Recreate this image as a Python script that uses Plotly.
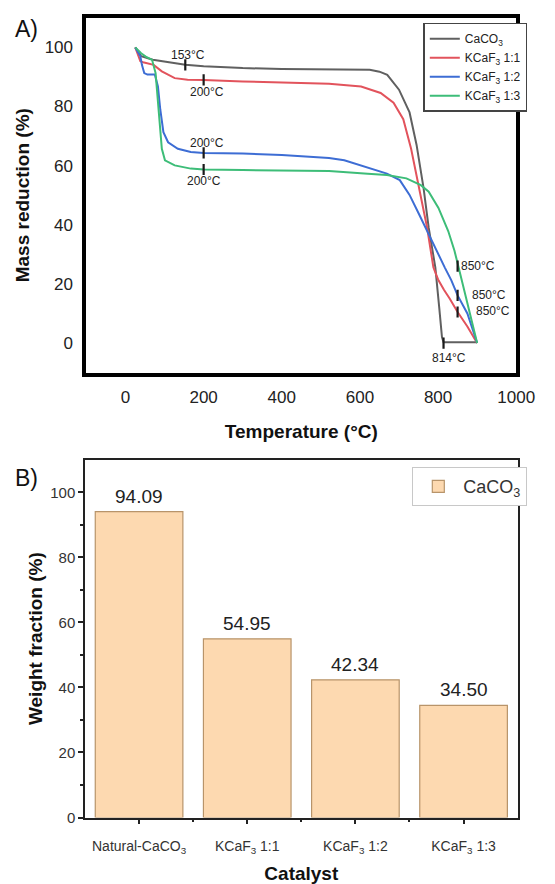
import plotly.graph_objects as go

FONT = "Liberation Sans"

# ---------------- Panel A data (TGA curves) ----------------
temp_caco3 = [25, 40, 70, 101, 153, 200, 300, 400, 521, 600, 625, 650, 670, 700, 727, 745, 763, 776, 793, 803, 810, 814, 850, 900]
mass_caco3 = [100, 97.0, 95.8, 95.2, 94.1, 93.6, 93.0, 92.7, 92.6, 92.6, 92.4, 91.8, 90.7, 85.7, 78.0, 67.0, 52.3, 39.0, 25.6, 12.0, 2.0, 0.3, 0.3, 0.3]

temp_11 = [25, 38, 45, 72, 93, 126, 159, 200, 300, 400, 521, 603, 653, 686, 711, 731, 751, 772, 788, 800, 815, 830, 850, 875, 895, 900]
mass_11 = [100, 95.3, 95.0, 94.1, 91.9, 89.6, 89.1, 89.0, 88.5, 88.2, 87.7, 86.8, 84.6, 81.3, 75.7, 65.7, 52.3, 39.0, 25.6, 21.5, 18.0, 15.0, 10.5, 5.6, 1.1, 0.0]

temp_12 = [25, 38, 42, 48, 56, 75, 83, 89, 97, 109, 134, 167, 200, 300, 400, 521, 560, 615, 669, 702, 727, 752, 776, 801, 817, 834, 850, 875, 895, 900]
mass_12 = [100, 97.0, 94.1, 91.3, 90.8, 90.8, 86.8, 79.0, 71.3, 67.9, 65.7, 64.6, 64.3, 64.1, 63.6, 62.6, 61.8, 59.6, 57.3, 55.1, 50.1, 43.4, 36.7, 30.1, 25.6, 21.2, 16.1, 10.0, 2.2, 0.0]

temp_13 = [25, 40, 52, 68, 77, 85, 93, 101, 126, 167, 200, 300, 400, 521, 620, 669, 719, 756, 776, 801, 826, 842, 850, 867, 883, 900]
mass_13 = [100, 98.0, 96.9, 95.8, 91.3, 79.0, 65.7, 61.8, 60.1, 59.0, 58.7, 58.5, 58.3, 58.2, 57.3, 56.8, 55.7, 53.4, 51.2, 45.7, 37.9, 31.2, 27.0, 17.8, 8.9, 0.0]

series_names = ["CaCO<sub>3</sub>", "KCaF<sub>3</sub> 1:1", "KCaF<sub>3</sub> 1:2", "KCaF<sub>3</sub> 1:3"]

# marked temperatures on the curves
mark_temp = [153, 200, 200, 200, 850, 850, 850, 814]
mark_mass = [94.1, 89.0, 64.3, 58.7, 26.0, 16.1, 10.5, 0.0]
mark_text = ["153°C", "200°C", "200°C", "200°C", "850°C", "850°C", "850°C", "814°C"]

x_ticks_a = [0, 200, 400, 600, 800, 1000]
y_ticks_a = [0, 20, 40, 60, 80, 100]

# ---------------- Panel B data (bars) ----------------
catalysts = ["Natural-CaCO<sub>3</sub>", "KCaF<sub>3</sub> 1:1", "KCaF<sub>3</sub> 1:2", "KCaF<sub>3</sub> 1:3"]
weight_fraction = [94.09, 54.95, 42.34, 34.50]
y_ticks_b = [0, 20, 40, 60, 80, 100]
y_minor_b = [10, 30, 50, 70, 90]

W, H = 555, 884
def px_x(p):
    return p / W
def px_y(p):
    return 1 - p / H

fig = go.Figure()

colors = ["#606060", "#e2535c", "#3d6dd4", "#3dbd78"]
temps = [temp_caco3, temp_11, temp_12, temp_13]
masses = [mass_caco3, mass_11, mass_12, mass_13]
for name, t, m, c in zip(series_names, temps, masses, colors):
    fig.add_trace(go.Scatter(x=t, y=m, mode="lines", name=name,
                             line=dict(color=c, width=2),
                             xaxis="x", yaxis="y", legend="legend"))

fig.add_trace(go.Scatter(x=mark_temp, y=mark_mass, mode="markers", showlegend=False,
                         marker=dict(symbol="line-ns", size=8,
                                     line=dict(width=2.2, color="#1a1a1a")),
                         xaxis="x", yaxis="y", hoverinfo="skip"))

# label offsets (pixels) relative to each mark
label_shift = [
    (3, 10, "center"), (3, -12, "center"), (3, 10, "center"), (0, -12, "center"),
    (1, 0, "left"), (12, 0, "left"), (16, 1, "left"), (5, -15, "center"),
]
annotations = []
for xv, yv, txt, (dx, dy, anc) in zip(mark_temp, mark_mass, mark_text, label_shift):
    annotations.append(dict(x=xv, y=yv, xref="x", yref="y", text=txt, showarrow=False,
                            xanchor=anc, yanchor="middle", xshift=dx, yshift=dy,
                            font=dict(family=FONT, size=12, color="#222")))

# ---------------- Panel B bars ----------------
fig.add_trace(go.Bar(x=list(range(len(catalysts))), y=weight_fraction, name="CaCO<sub>3</sub>",
                     marker=dict(color="#fdd9b0", line=dict(color="#b8946a", width=1.2)),
                     xaxis="x2", yaxis="y2", legend="legend2"))

# value labels above bars
for i, v in enumerate(weight_fraction):
    annotations.append(dict(x=i, y=v, xref="x2", yref="y2", text=f"{v:.2f}", showarrow=False,
                            xanchor="center", yanchor="bottom", yshift=3,
                            font=dict(family=FONT, size=19, color="#222")))

# panel letters
annotations.append(dict(x=px_x(13), y=px_y(29), xref="paper", yref="paper", text="A)",
                        showarrow=False, xanchor="left", yanchor="middle",
                        font=dict(family=FONT, size=23, color="#111")))
annotations.append(dict(x=px_x(13), y=px_y(482), xref="paper", yref="paper", text="B)",
                        showarrow=False, xanchor="left", yanchor="middle",
                        font=dict(family=FONT, size=23, color="#111")))

fig.update_layout(
    width=W, height=H,
    margin=dict(l=0, r=0, t=0, b=0),
    paper_bgcolor="white", plot_bgcolor="white",
    font=dict(family=FONT, color="#222"),
    barmode="group", bargap=0.19,
    annotations=annotations,
    xaxis=dict(domain=[px_x(89.5), px_x(534.5)], anchor="y", range=[-100, 1000],
               tickmode="array", tickvals=x_ticks_a, ticks="", showgrid=False, zeroline=False,
               showline=True, mirror=True, linewidth=4, linecolor="black",
               tickfont=dict(family=FONT, size=17, color="#222"), ticklabelstandoff=6,
               title=dict(text="<b>Temperature (°C)</b>", standoff=20,
                          font=dict(family=FONT, size=19, color="#111"))),
    yaxis=dict(domain=[px_y(376), px_y(18)], anchor="x", range=[-10, 110],
               tickmode="array", tickvals=y_ticks_a, ticks="", showgrid=False, zeroline=False,
               showline=True, mirror=True, linewidth=4, linecolor="black",
               tickfont=dict(family=FONT, size=17, color="#222"), ticklabelstandoff=6,
               title=dict(text="<b>Mass reduction (%)</b>", standoff=11,
                          font=dict(family=FONT, size=19, color="#111"))),
    xaxis2=dict(domain=[px_x(88), px_x(536)], anchor="y2", range=[-0.5, 3.5],
                tickmode="array", tickvals=list(range(len(catalysts))), ticktext=catalysts,
                ticks="outside", ticklen=5, tickwidth=1.5, tickcolor="#222",
                minor=dict(tickmode="array", tickvals=[0.5, 1.5, 2.5], ticks="outside",
                           ticklen=3, tickwidth=1.5, tickcolor="#222"),
                showgrid=False, zeroline=False,
                showline=True, mirror=True, linewidth=1.5, linecolor="#222",
                tickfont=dict(family=FONT, size=14, color="#333"), ticklabelstandoff=10,
                title=dict(text="<b>Catalyst</b>", standoff=13,
                           font=dict(family=FONT, size=19, color="#111"))),
    yaxis2=dict(domain=[px_y(825), px_y(464)], anchor="x2", range=[0, 110],
                tickmode="array", tickvals=y_ticks_b,
                ticks="outside", ticklen=5, tickwidth=1.5, tickcolor="#222",
                minor=dict(tickmode="array", tickvals=y_minor_b, ticks="outside",
                           ticklen=3, tickwidth=1.5, tickcolor="#222"),
                showgrid=False, zeroline=False,
                showline=True, mirror=True, linewidth=1.5, linecolor="#222",
                tickfont=dict(family=FONT, size=15, color="#333"),
                title=dict(text="<b>Weight fraction (%)</b>", standoff=3,
                           font=dict(family=FONT, size=19, color="#111"))),
    legend=dict(x=px_x(546), y=px_y(23), xanchor="right", yanchor="top",
                bgcolor="white", bordercolor="#444", borderwidth=1.5,
                font=dict(family=FONT, size=12, color="#222"),
                itemwidth=30, tracegroupgap=0),
    legend2=dict(x=px_x(546), y=px_y(471.5), xanchor="right", yanchor="top",
                 bgcolor="white", bordercolor="#c8c8c8", borderwidth=1,
                 font=dict(family=FONT, size=18, color="#333"), itemwidth=40),
)

fig.write_html("out.html")
